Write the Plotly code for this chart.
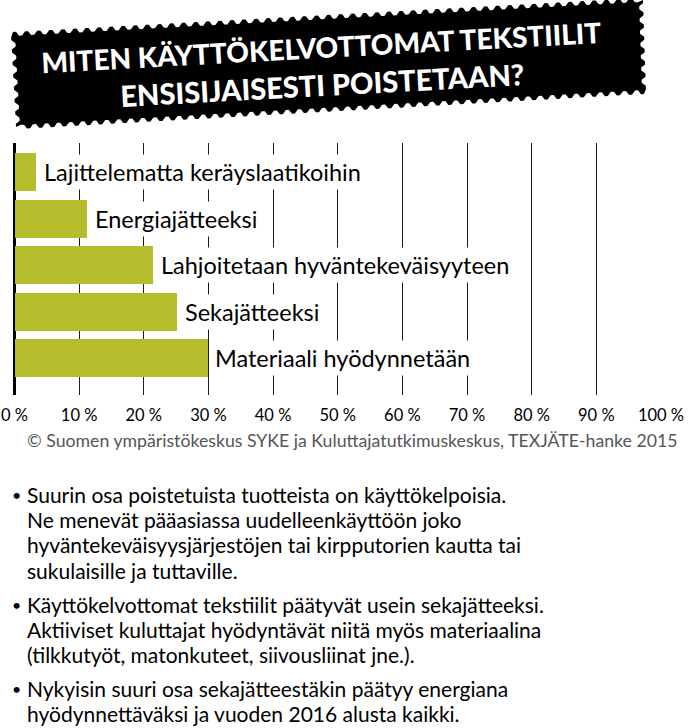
import math
import plotly.graph_objects as go

W, H = 691, 728

categories = [
    "Lajittelematta keräyslaatikoihin",
    "Energiajätteeksi",
    "Lahjoitetaan hyväntekeväisyyteen",
    "Sekajätteeksi",
    "Materiaali hyödynnetään",
]
values = [3.3, 11.2, 21.4, 25.1, 29.8]
tick_values = [0, 10, 20, 30, 40, 50, 60, 70, 80, 90, 100]
tick_labels = ["0 %", "10 %", "20 %", "30 %", "40 %", "50 %", "60 %", "70 %", "80 %", "90 %", "100 %"]

title_lines = ["MITEN KÄYTTÖKELVOTTOMAT TEKSTIILIT", "ENSISIJAISESTI POISTETAAN?"]
source_text = "© Suomen ympäristökeskus SYKE ja Kuluttajatutkimuskeskus, TEXJÄTE-hanke 2015"
bullets = [
    ["Suurin osa poistetuista tuotteista on käyttökelpoisia.",
     "Ne menevät pääasiassa uudelleenkäyttöön joko",
     "hyväntekeväisyysjärjestöjen tai kirpputorien kautta tai",
     "sukulaisille ja tuttaville."],
    ["Käyttökelvottomat tekstiilit päätyvät usein sekajätteeksi.",
     "Aktiiviset kuluttajat hyödyntävät niitä myös materiaalina",
     "(tilkkutyöt, matonkuteet, siivousliinat jne.)."],
    ["Nykyisin suuri osa sekajätteestäkin päätyy energiana",
     "hyödynnettäväksi ja vuoden 2016 alusta kaikki."],
]

FONT = "Lato"
BAR_COLOR = "#b6bd2c"


def px(x):
    return x / W


def py(y):
    return 1 - y / H


fig = go.Figure()
fig.add_trace(go.Bar(
    x=values, y=list(range(len(categories))), orientation="h",
    marker=dict(color=BAR_COLOR, line=dict(width=0)),
    width=0.815, hoverinfo="skip", showlegend=False,
))

# plot geometry
x0_px, x1_px = 14.5, 661
y_top, y_bot = 143, 395
first_c, pitch = 172, 46.6
rmin = 0 - (first_c - y_top) / pitch
rmax = (len(categories) - 1) + (y_bot - (first_c + pitch * (len(categories) - 1))) / pitch

fig.update_layout(
    width=W, height=H,
    margin=dict(l=0, r=0, t=0, b=0, autoexpand=False),
    paper_bgcolor="white", plot_bgcolor="white",
    font=dict(family=FONT, color="black"),
    bargap=0,
    xaxis=dict(
        domain=[px(x0_px), px(x1_px)], range=[0, 100], automargin=False,
        tickvals=tick_values, ticktext=tick_labels,
        showgrid=True, gridcolor="#1a1a1a", gridwidth=1.3,
        zeroline=True, zerolinecolor="black", zerolinewidth=3,
        showline=False, ticks="", ticklabelstandoff=8,
        tickfont=dict(size=16.5, color="black", family=FONT),
        fixedrange=True,
    ),
    yaxis=dict(
        domain=[py(y_bot), py(y_top)], range=[rmax, rmin], automargin=False,
        showgrid=False, zeroline=False, showticklabels=False, ticks="",
        fixedrange=True,
    ),
)

# bar labels
for i, (c, v) in enumerate(zip(categories, values)):
    fig.add_annotation(
        x=v, y=i, xref="x", yref="y", text=c, showarrow=False,
        xanchor="left", yanchor="middle", xshift=4,
        bgcolor="white", borderpad=3,
        font=dict(size=23.5, color="black", family=FONT),
    )

# banner with perforated edge
TL, TR, BR, BL = (13, 34), (641, 0), (644, 92), (18, 127)


def edge(p, q, nx, ny, step=6.0, amp=2.0):
    L = math.hypot(q[0] - p[0], q[1] - p[1])
    n = max(2, int(L / step))
    pts = []
    for k in range(n):
        off = amp if k % 2 == 0 else -amp
        for t in (k / n, (k + 0.5) / n):
            pts.append((p[0] + (q[0] - p[0]) * t + nx * off,
                        p[1] + (q[1] - p[1]) * t + ny * off))
    return pts


pts = []
pts += edge(TL, TR, 0, -1)
pts += edge(TR, BR, 1, 0)
pts += edge(BR, BL, 0, 1)
pts += edge(BL, TL, -1, 0)
path = "M " + " L ".join(f"{px(x):.5f},{py(y):.5f}" for x, y in pts) + " Z"
fig.add_shape(type="path", path=path, xref="paper", yref="paper",
              fillcolor="black", line=dict(width=0), layer="above")

angle = -3.1
title_centers = [(321, 47), (322, 84)]
title_sizes = [28, 29]
for line, (cx, cy), sz in zip(title_lines, title_centers, title_sizes):
    fig.add_annotation(
        x=px(cx), y=py(cy), xref="paper", yref="paper",
        text=line, showarrow=False, textangle=angle,
        xanchor="center", yanchor="middle", align="center",
        font=dict(size=sz, color="white", family=FONT, weight=900),
    )

# source
fig.add_annotation(
    x=px(679), y=py(440), xref="paper", yref="paper", text=source_text,
    showarrow=False, xanchor="right", yanchor="middle",
    font=dict(size=17.7, color="#555555", family=FONT),
)

# bullet texts
starts = [494, 604, 688]
line_h = 25.4
for lines, y0 in zip(bullets, starts):
    fig.add_annotation(
        x=px(11), y=py(y0), xref="paper", yref="paper", text="•",
        showarrow=False, xanchor="left", yanchor="middle", borderpad=0,
        font=dict(size=16, color="black", family=FONT),
    )
    for k, ln in enumerate(lines):
        fig.add_annotation(
            x=px(26), y=py(y0 + k * line_h), xref="paper", yref="paper",
            text=ln, showarrow=False, xanchor="left", yanchor="middle",
            align="left", borderpad=0,
            font=dict(size=21, color="black", family=FONT),
        )

fig.write_html("out.html")
